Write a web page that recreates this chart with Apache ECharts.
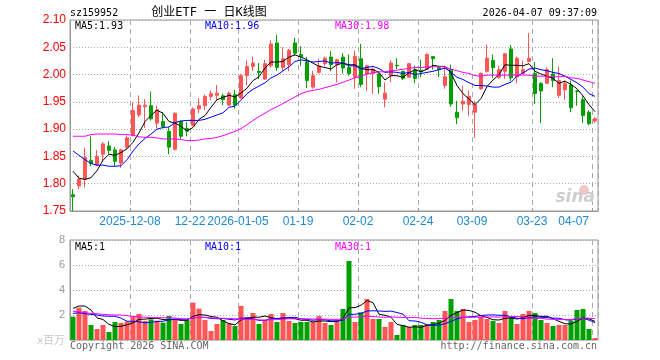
<!DOCTYPE html>
<html><head><meta charset="utf-8">
<script src="https://cdn.jsdelivr.net/npm/echarts@6/dist/echarts.min.js"></script>
<style>html,body{margin:0;padding:0;background:#fff}#c{width:660px;height:360px}</style>
</head><body><div id="c"></div>
<script>
const dates = ['2025-11-24','2025-11-25','2025-11-26','2025-11-27','2025-11-28',
'2025-12-01','2025-12-02','2025-12-03','2025-12-04','2025-12-05',
'2025-12-08','2025-12-09','2025-12-10','2025-12-11','2025-12-12',
'2025-12-15','2025-12-16','2025-12-17','2025-12-18','2025-12-19',
'2025-12-22','2025-12-23','2025-12-24','2025-12-25','2025-12-26',
'2025-12-29','2025-12-30','2025-12-31',
'2026-01-05','2026-01-06','2026-01-07','2026-01-08','2026-01-09',
'2026-01-12','2026-01-13','2026-01-14','2026-01-15','2026-01-16',
'2026-01-19','2026-01-20','2026-01-21','2026-01-22','2026-01-23',
'2026-01-26','2026-01-27','2026-01-28','2026-01-29','2026-01-30',
'2026-02-02','2026-02-03','2026-02-04','2026-02-05','2026-02-06',
'2026-02-09','2026-02-10','2026-02-11','2026-02-12','2026-02-13',
'2026-02-24','2026-02-25','2026-02-26','2026-02-27',
'2026-03-02','2026-03-03','2026-03-04','2026-03-05','2026-03-06',
'2026-03-09','2026-03-10','2026-03-11','2026-03-12','2026-03-13',
'2026-03-16','2026-03-17','2026-03-18','2026-03-19','2026-03-20',
'2026-03-23','2026-03-24','2026-03-25','2026-03-26','2026-03-27',
'2026-03-30','2026-03-31','2026-04-01','2026-04-02','2026-04-03',
'2026-04-07'];

const opens = [1.780,1.796,1.808,1.843,1.834,1.854,1.869,1.862,1.838,1.867,
1.888,1.926,1.941,1.943,1.911,1.914,1.896,1.863,1.914,1.901,
1.907,1.937,1.943,1.960,1.962,1.961,1.944,1.963,1.957,1.998,
2.015,2.006,1.992,2.016,2.058,2.013,2.018,2.058,2.037,2.023,
1.977,2.004,2.020,2.032,2.018,2.032,2.013,1.995,2.029,2.001,
2.002,2.001,1.955,1.998,2.017,2.006,1.995,2.009,2.008,2.010,
2.033,2.013,1.980,2.009,1.931,1.946,1.945,1.931,1.974,2.006,
2.026,1.995,2.006,2.047,1.996,2.002,2.024,2.002,1.984,1.984,
2.001,1.962,1.972,1.981,1.970,1.954,1.931,1.915];
const closes = [1.776,1.808,1.848,1.837,1.850,1.873,1.861,1.841,1.862,1.884,
1.934,1.944,1.944,1.919,1.935,1.905,1.867,1.929,1.887,1.896,
1.937,1.943,1.960,1.965,1.966,1.954,1.966,1.944,1.998,2.015,
2.021,2.004,2.020,2.056,2.013,2.029,2.044,2.039,2.033,1.989,
1.998,2.016,2.030,2.018,2.027,2.012,2.002,2.033,1.982,2.016,
2.010,1.978,1.966,2.021,2.016,1.993,2.020,1.993,2.005,2.037,
2.029,2.009,1.996,1.946,1.921,1.951,1.960,1.945,2.002,2.030,
2.013,2.009,2.038,1.994,2.030,2.009,2.030,1.965,1.970,2.009,
1.989,1.989,1.984,1.939,1.969,1.925,1.910,1.919];
const lows = [1.750,1.790,1.793,1.832,1.832,1.840,1.854,1.832,1.829,1.864,
1.887,1.922,1.902,1.916,1.901,1.901,1.854,1.861,1.882,1.887,
1.905,1.929,1.935,1.953,1.952,1.944,1.943,1.938,1.955,1.980,
2.007,1.992,1.990,2.013,2.007,2.007,2.006,2.035,2.016,1.975,
1.974,2.002,2.016,2.006,1.986,2.002,1.998,1.974,1.977,1.970,
1.965,1.965,1.940,1.986,2.010,1.990,1.994,1.984,1.995,2.009,
2.009,1.995,1.974,1.941,1.909,1.934,1.925,1.884,1.972,2.004,
1.994,1.992,1.992,1.988,1.984,2.001,2.023,1.946,1.911,1.983,
1.977,1.957,1.954,1.931,1.943,1.911,1.907,1.911];
const highs = [1.790,1.815,1.866,1.887,1.862,1.876,1.878,1.867,1.864,1.888,
1.949,1.962,1.955,1.969,1.943,1.931,1.904,1.931,1.916,1.913,
1.940,1.957,1.963,1.971,1.981,1.965,1.969,1.972,2.001,2.026,
2.033,2.021,2.027,2.063,2.073,2.050,2.047,2.067,2.052,2.032,
2.007,2.029,2.033,2.043,2.029,2.039,2.037,2.044,2.056,2.018,
2.013,2.006,1.986,2.026,2.030,2.007,2.021,2.016,2.027,2.039,
2.033,2.016,2.015,2.018,1.952,1.980,1.971,1.952,2.004,2.055,
2.037,2.016,2.039,2.054,2.033,2.026,2.076,2.023,1.986,2.013,
2.030,2.015,1.989,1.989,1.972,1.960,1.935,1.922];

const ma5 = [1.823,1.810,1.808,1.811,1.824,1.843,1.854,1.852,1.857,1.864,
1.876,1.893,1.914,1.925,1.935,1.929,1.914,1.911,1.905,1.897,
1.903,1.918,1.925,1.940,1.954,1.958,1.962,1.959,1.966,1.975,
1.989,1.996,2.012,2.023,2.023,2.024,2.032,2.036,2.032,2.027,
2.021,2.015,2.013,2.010,2.018,2.021,2.018,2.018,2.011,2.009,
2.009,2.004,1.990,1.998,1.998,1.995,2.003,2.009,2.005,2.010,
2.017,2.015,2.015,2.003,1.980,1.965,1.955,1.945,1.956,1.978,
1.990,2.000,2.018,2.017,2.017,2.016,2.020,2.006,2.001,1.997,
1.993,1.984,1.988,1.982,1.974,1.961,1.945,1.932];
const ma10 = [1.860,1.852,1.844,1.837,1.834,1.834,1.832,1.832,1.833,1.844,
1.860,1.873,1.883,1.891,1.900,1.903,1.904,1.912,1.915,1.916,
1.916,1.916,1.918,1.922,1.926,1.930,1.940,1.942,1.953,1.965,
1.973,1.979,1.985,1.994,1.999,2.007,2.014,2.024,2.027,2.025,
2.023,2.024,2.025,2.021,2.022,2.021,2.016,2.016,2.011,2.013,
2.015,2.011,2.004,2.005,2.004,2.002,2.004,2.000,2.002,2.004,
2.006,2.009,2.012,2.004,1.995,1.991,1.985,1.980,1.980,1.979,
1.977,1.977,1.982,1.986,1.997,2.003,2.010,2.012,2.009,2.007,
2.004,2.002,1.997,1.991,1.985,1.977,1.965,1.960];
const ma30 = [1.887,1.887,1.887,1.890,1.891,1.891,1.891,1.891,1.890,1.890,
1.889,1.886,1.885,1.885,1.884,1.882,1.882,1.882,1.881,1.879,
1.879,1.880,1.882,1.883,1.885,1.888,1.892,1.896,1.901,1.908,
1.916,1.923,1.929,1.936,1.941,1.947,1.953,1.959,1.965,1.969,
1.971,1.973,1.976,1.979,1.982,1.986,1.990,1.994,1.997,2.001,
2.003,2.005,2.005,2.007,2.008,2.010,2.011,2.013,2.013,2.014,
2.014,2.015,2.014,2.010,2.007,2.004,2.002,1.998,1.997,1.999,
1.999,1.999,1.999,1.999,1.999,1.999,1.999,1.997,1.997,1.997,
1.996,1.996,1.997,1.994,1.993,1.990,1.987,1.984];

const volumes = [1.87,2.59,2.32,1.20,0.88,1.20,0.64,1.44,1.36,1.47,
1.92,2.08,1.52,1.65,1.55,1.39,1.92,1.73,1.28,1.60,
2.99,2.51,1.60,0.72,1.28,1.60,1.33,1.12,2.72,1.84,
2.16,1.28,1.60,2.08,1.44,2.16,1.52,1.36,1.44,1.44,
1.44,1.92,1.36,1.20,1.52,2.48,6.32,1.44,2.21,3.28,
1.68,1.68,1.04,1.44,0.40,1.20,1.04,1.20,1.20,1.25,
1.44,1.60,2.32,3.28,2.32,2.48,1.44,1.60,1.84,1.68,
1.52,1.36,2.32,1.92,1.28,2.08,2.32,2.16,1.60,1.36,
1.12,1.20,1.20,1.52,2.40,2.48,0.88,0.16];
const volMa5 = [2.53,2.72,2.72,2.40,1.77,1.64,1.25,1.07,1.10,1.22,
1.37,1.65,1.67,1.73,1.74,1.64,1.61,1.65,1.57,1.58,
1.90,2.02,2.00,1.88,1.82,1.54,1.31,1.21,1.61,1.72,
1.83,1.82,1.92,1.79,1.71,1.71,1.76,1.71,1.58,1.58,
1.44,1.52,1.52,1.47,1.49,1.70,2.58,2.59,2.79,3.15,
2.99,2.06,1.98,1.82,1.25,1.15,1.02,1.06,1.01,1.18,
1.23,1.34,1.56,1.98,2.19,2.40,2.37,2.22,1.94,1.81,
1.62,1.60,1.74,1.76,1.68,1.79,1.98,1.95,1.89,1.90,
1.71,1.49,1.30,1.28,1.49,1.76,1.70,1.49];
const volMa10 = [2.13,2.18,2.10,2.05,2.00,1.92,1.90,1.90,1.75,1.50,
1.50,1.45,1.37,1.42,1.48,1.50,1.63,1.66,1.65,1.66,
1.77,1.81,1.82,1.73,1.70,1.72,1.66,1.60,1.75,1.77,
1.69,1.57,1.57,1.70,1.72,1.77,1.79,1.82,1.69,1.65,
1.58,1.64,1.62,1.53,1.54,1.57,2.05,2.06,2.13,2.32,
2.34,2.32,2.29,2.31,2.20,2.07,1.54,1.52,1.42,1.21,
1.19,1.18,1.31,1.49,1.69,1.81,1.85,1.89,1.96,2.00,
2.01,1.98,1.98,1.85,1.74,1.70,1.79,1.85,1.82,1.79,
1.75,1.74,1.62,1.58,1.70,1.74,1.59,1.39];
const volMa30 = [2.30,2.25,2.20,2.12,2.10,2.05,2.02,2.00,2.00,1.95,
1.88,1.85,1.82,1.80,1.79,1.78,1.78,1.76,1.70,1.68,
1.78,1.80,1.80,1.77,1.75,1.74,1.72,1.70,1.66,1.64,
1.65,1.61,1.59,1.62,1.63,1.67,1.70,1.69,1.70,1.69,
1.68,1.67,1.67,1.65,1.65,1.69,1.83,1.83,1.86,1.91,
1.87,1.84,1.82,1.85,1.82,1.80,1.79,1.80,1.75,1.73,
1.70,1.71,1.74,1.78,1.81,1.82,1.81,1.82,1.84,1.84,
1.85,1.83,1.86,1.88,1.88,1.86,1.73,1.75,1.73,1.67,
1.65,1.63,1.64,1.64,1.71,1.75,1.75,1.71];

const xTickIndex = [10,20,28,38,48,58,67,77,87];
const xTickText = ['2025-12-08','12-22','2026-01-05','01-19','02-02','02-24','03-09','03-23','04-07'];
const priceMin = 1.75, priceMax = 2.10, priceStep = 0.05;
const volMin = 0, volMax = 8, volStep = 2;

const UP = '#ff5555', DOWN = '#00a000';
const MONO = '"DejaVu Sans Mono", monospace';
const GRIDC = '#a8a8a8';
const showTick = (i) => xTickIndex.indexOf(i) >= 0;

const candleData = dates.map((d, i) => [opens[i], closes[i], lows[i], highs[i]]);
const volData = volumes.map((v, i) => ({value: v, itemStyle: {color: closes[i] >= opens[i] ? UP : DOWN}}));

const chart = echarts.init(document.getElementById('c'), null, {renderer: 'canvas'});
const maLine = (name, data, color, xi, yi) => ({
  name, type: 'line', data, xAxisIndex: xi, yAxisIndex: yi, symbol: 'none', showSymbol: false,
  lineStyle: {color, width: 1}, itemStyle: {color}, silent: true, z: 3
});
const txt = (text, x, y, fill, align, font) => ({
  type: 'text', x, y, silent: true, z: 10,
  style: {text, fill, font: font || ('10px ' + MONO), textAlign: align || 'left', textVerticalAlign: 'middle'}
});

chart.setOption({
  animation: false,
  backgroundColor: '#fff',
  grid: [
    {left: 70, top: 20, width: 528, height: 191, show: true, borderColor: '#999', borderWidth: 1},
    {left: 70, top: 240, width: 528, height: 100, show: true, borderColor: '#999', borderWidth: 1}
  ],
  xAxis: [
    {type: 'category', gridIndex: 0, data: dates, boundaryGap: true,
      axisLine: {show: true, lineStyle: {color: '#999'}},
      axisTick: {show: true, inside: true, length: 3, interval: showTick, lineStyle: {color: '#999'}},
      axisLabel: {show: true, interval: showTick, margin: 5, color: '#1e88d2', font: '10px ' + MONO,
        padding: [0, 6, 0, 0], alignMaxLabel: 'right',
        formatter: (v, i) => { const k = xTickIndex.indexOf(i); return k >= 0 ? xTickText[k] : ''; }},
      splitLine: {show: true, interval: showTick, lineStyle: {color: GRIDC, type: [5, 4], width: 1}}
    },
    {type: 'category', gridIndex: 1, data: dates, boundaryGap: true,
      axisLine: {show: false}, axisTick: {show: false}, axisLabel: {show: false},
      splitLine: {show: true, interval: showTick, lineStyle: {color: GRIDC, type: [5, 4], width: 1}}
    }
  ],
  yAxis: [
    {type: 'value', gridIndex: 0, min: priceMin, max: priceMax, interval: priceStep,
      axisLine: {show: true, lineStyle: {color: '#999'}}, axisTick: {show: false},
      axisLabel: {color: '#ff0000', font: '10px ' + MONO, margin: 4, formatter: v => v.toFixed(2)},
      splitLine: {show: true, lineStyle: {color: GRIDC, type: [1, 2]}}
    },
    {type: 'value', gridIndex: 1, min: volMin, max: volMax, interval: volStep,
      axisLine: {show: true, lineStyle: {color: '#999'}}, axisTick: {show: false},
      axisLabel: {color: '#999', fontSize: 11, fontFamily: '"Liberation Sans", Arial, sans-serif', margin: 5,
        formatter: v => v === 0 ? '{u|x百万}' : String(v),
        rich: {u: {color: '#c8c8c8', fontSize: 11, fontFamily: '"Noto Sans CJK SC", sans-serif'}}},
      splitLine: {show: true, lineStyle: {color: GRIDC, type: [1, 2]}}
    }
  ],
  series: [
    {name: 'K', type: 'candlestick', xAxisIndex: 0, yAxisIndex: 0, data: candleData, barWidth: 4,
      itemStyle: {color: UP, color0: DOWN, borderColor: UP, borderColor0: DOWN, borderWidth: 1}, z: 2},
    maLine('MA5', ma5, '#000000', 0, 0),
    maLine('MA10', ma10, '#0000ff', 0, 0),
    maLine('MA30', ma30, '#ff00ff', 0, 0),
    {name: 'VOL', type: 'bar', xAxisIndex: 1, yAxisIndex: 1, data: volData, barWidth: 5, z: 2},
    maLine('VMA5', volMa5, '#000000', 1, 1),
    maLine('VMA10', volMa10, '#0000ff', 1, 1),
    maLine('VMA30', volMa30, '#ff00ff', 1, 1)
  ],
  graphic: [
    txt('sz159952', 70, 13, '#000'),
    txt('创业ETF 一 日K线图', 209, 13, '#000', 'center', '12px "DejaVu Sans Mono", "Noto Sans CJK SC", monospace'),
    txt('2026-04-07 09:37:09', 597, 13, '#000', 'right'),
    txt('MA5:1.93', 75, 26, '#000'),
    txt('MA10:1.96', 205, 26, '#0000ff'),
    txt('MA30:1.98', 335, 26, '#ff00ff'),
    txt('MA5:1', 75, 247, '#000'),
    txt('MA10:1', 205, 247, '#0000ff'),
    txt('MA30:1', 335, 247, '#ff00ff'),
    txt('Copyright 2026 SINA.COM', 70, 346, '#666'),
    txt('http://finance.sina.com.cn', 597, 346, '#666', 'right'),
    {type: 'circle', shape: {cx: 584, cy: 190, r: 5}, style: {fill: '#f4c6c6'}, silent: true, z: 1},
    txt('sina', 595, 198, '#cfcfcf', 'right', 'italic bold 17px "DejaVu Sans", sans-serif')
  ]
});
</script></body></html>
